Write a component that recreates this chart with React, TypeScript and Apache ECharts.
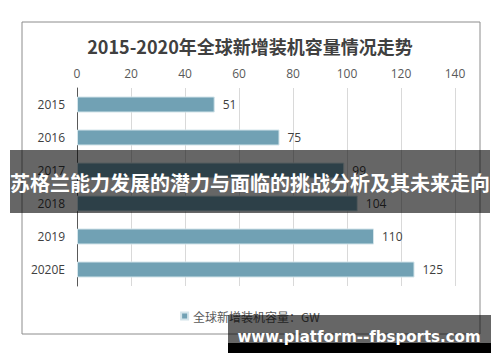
import React, { useEffect, useRef } from "react";
import * as echarts from "echarts";

const categories = ["2015", "2016", "2017", "2018", "2019", "2020E"];
const values = [51, 75, 99, 104, 110, 125];
const seriesName = "全球新增装机容量：GW";
const titleText = "2015-2020年全球新增装机容量情况走势";
const bannerText = "苏格兰能力发展的潜力与面临的挑战分析及其未来走向";
const watermarkText = "www.platform--fbsports.com";

const FONT = "'Open Sans', 'Noto Sans CJK SC', sans-serif";

export default function App() {
  const ref = useRef<HTMLDivElement>(null);
  useEffect(() => {
    document.body.style.margin = "0";
    const chart = echarts.init(ref.current!, null, { renderer: "svg" });
    chart.setOption({
      animation: false,
      backgroundColor: "#ffffff",
      textStyle: { fontFamily: FONT },
      title: {
        text: titleText,
        left: "center",
        top: 32,
        textStyle: { fontSize: 18, fontWeight: "bold", color: "#404040", fontFamily: "'Noto Sans CJK SC', sans-serif" },
      },
      legend: {
        data: [seriesName],
        left: "center",
        top: 305,
        icon: "rect",
        itemWidth: 7,
        itemHeight: 7,
        itemGap: 5,
        textStyle: { fontSize: 12, color: "#595959", fontFamily: "'Noto Sans CJK SC', sans-serif" },
      },
      grid: { left: 77, right: 45, top: 88, height: 198, containLabel: false },
      xAxis: {
        type: "value",
        position: "top",
        min: 0,
        max: 140,
        interval: 20,
        axisLine: { show: false },
        axisTick: { show: false },
        axisLabel: { color: "#595959", fontSize: 12, margin: 9 },
        splitLine: { show: true, lineStyle: { color: "#d9d9d9", width: 1 } },
      },
      yAxis: {
        type: "category",
        data: categories,
        inverse: true,
        axisLine: { show: true, lineStyle: { color: "#595959", width: 1 } },
        axisTick: { show: false },
        axisLabel: { color: "#404040", fontSize: 12, margin: 12 },
      },
      series: [
        {
          name: seriesName,
          type: "bar",
          data: values,
          barWidth: 16,
          itemStyle: { color: "#71a1b4", borderColor: "#d3e4ea", borderWidth: 1 },
          label: { show: true, position: "right", distance: 8, color: "#404040", fontSize: 12 },
        },
      ],
      graphic: [
        {
          type: "rect",
          shape: { x: 22, y: 22, width: 458, height: 312 },
          style: { fill: "none", stroke: "#8c8c8c", lineWidth: 1 },
          z: 1,
        },
        {
          type: "rect",
          shape: { x: 10, y: 150, width: 480, height: 63 },
          style: { fill: "rgba(0,0,0,0.6)" },
          z: 100,
        },
        {
          type: "text",
          x: 250,
          y: 182,
          style: {
            text: bannerText,
            fill: "#ffffff",
            font: "bold 20px 'Noto Sans CJK SC', sans-serif",
            textAlign: "center",
            textVerticalAlign: "middle",
          },
          z: 101,
        },
        {
          type: "rect",
          shape: { x: 228, y: 315, width: 263, height: 28 },
          style: { fill: "rgba(0,0,0,0.6)" },
          z: 100,
        },
        {
          type: "rect",
          shape: { x: 228, y: 343, width: 263, height: 10 },
          style: { fill: "#000000" },
          z: 100,
        },
        {
          type: "text",
          x: 359,
          y: 337,
          style: {
            text: watermarkText,
            fill: "#ffffff",
            font: "bold 15px 'DejaVu Sans', sans-serif",
            textAlign: "center",
            textVerticalAlign: "middle",
          },
          z: 101,
        },
      ],
    });
    return () => chart.dispose();
  }, []);
  return <div ref={ref} style={{ width: 500, height: 362 }} />;
}
